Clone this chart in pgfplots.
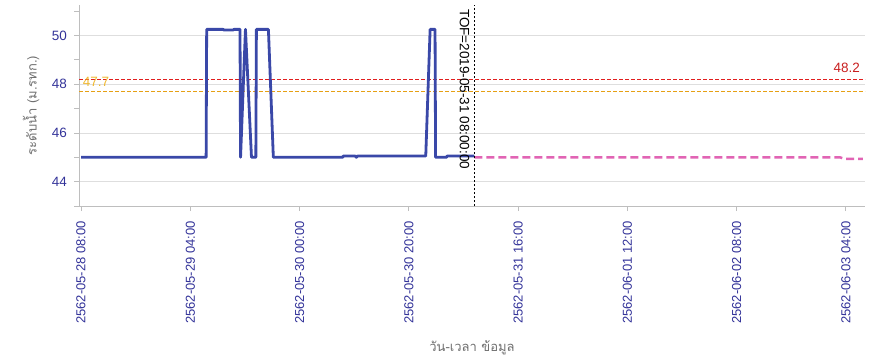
\documentclass[border=0pt]{standalone}
\usepackage{fontspec}
\setmainfont{Liberation Sans}
\newfontfamily\thaifont[Script=Thai]{Loma}
\usepackage{pgfplots}
\pgfplotsset{compat=1.18}
\definecolor{tickblue}{RGB}{51,51,153}
\definecolor{seriesblue}{RGB}{58,72,168}
\definecolor{fcpink}{RGB}{225,100,180}
\definecolor{cRed}{RGB}{225,30,30}
\definecolor{redtext}{RGB}{200,30,30}
\definecolor{cOrange}{RGB}{230,160,20}
\definecolor{labelorange}{RGB}{240,185,50}
\definecolor{axgray}{RGB}{190,190,190}
\definecolor{gridgray}{RGB}{222,222,222}
\definecolor{titlegray}{RGB}{110,110,110}
\begin{document}
\begin{tikzpicture}
\useasboundingbox (0pt,0pt) rectangle (875pt,360pt);
\begin{axis}[
  at={(79pt,154pt)}, anchor=south west,
  scale only axis, width=786pt, height=201pt,
  xmin=-0.37, xmax=143.5, ymin=43, ymax=51.25,
  axis x line*=bottom, axis y line*=left,
  axis line style={axgray, line width=1pt, -},
  tick align=outside,
  major tick length=5pt, minor tick length=5pt,
  tick style={axgray, line width=0.8pt},
  ytick={44,46,48,50}, yticklabels={44,46,48,50},
  minor ytick={43,45,47,49,51},
  xtick={0,20,40,60,80,100,120,140},
  xticklabels={2562-05-28 08:00,2562-05-29 04:00,2562-05-30 00:00,2562-05-30 20:00,2562-05-31 16:00,2562-06-01 12:00,2562-06-02 08:00,2562-06-03 04:00},
  xticklabel style={rotate=90, anchor=east, color=tickblue, font=\fontsize{13}{15}\selectfont, inner sep=0pt, xshift=-10pt},
  yticklabel style={color=tickblue, font=\fontsize{13.5}{15}\selectfont, inner sep=0pt, xshift=-7pt},
  ymajorgrids, grid style={gridgray, line width=0.8pt},
  xlabel={\thaifont วัน-เวลา ข้อมูล},
  xlabel style={at={(axis description cs:0.5,-0.706)}, anchor=center, color=titlegray, font=\fontsize{13}{15}\selectfont},
  ylabel={\thaifont ระดับน้ำ (ม.รทก.)},
  ylabel style={at={(axis description cs:-0.061,0.5)}, anchor=center, color=titlegray, font=\fontsize{13}{15}\selectfont},
  clip=false,
]
\addplot[draw=cRed, line width=1.1pt, dash pattern=on 4pt off 2pt] coordinates {(-0.37,48.2) (143.5,48.2)};
\addplot[draw=cOrange, line width=1.1pt, dash pattern=on 4pt off 2pt] coordinates {(-0.37,47.7) (143.5,47.7)};
\addplot[draw=seriesblue, line width=2.8pt, line join=round] coordinates {
(0,45.0) (22.9,45.0) (23.0,50.25) (26.0,50.25) (26.2,50.22) (27.8,50.22) (28.0,50.25) (29.1,50.25) (29.2,45.0) (30.1,50.25) (31.2,45.0) (32.0,45.0) (32.1,50.25) (34.3,50.25) (35.2,45.0) (47.9,45.0) (48.0,45.05) (50.2,45.05) (50.4,45.0) (50.6,45.05) (63.1,45.05) (63.9,50.25) (64.8,50.25) (64.9,45.0) (66.9,45.0) (67.0,45.05) (72,45.05)
};
\addplot[draw=fcpink, line width=2.5pt, dash pattern=on 8pt off 4pt] coordinates {(72,45.0) (138.9,45.0) (139.8,44.93) (143.1,44.93)};
\addplot[draw=black, line width=0.8pt, dash pattern=on 2pt off 2pt] coordinates {(72,43) (72,51.25)};
\node[xshift=-5pt, yshift=-4pt, rotate=-90, anchor=north west, inner sep=0pt, font=\fontsize{13.5}{15}\selectfont] at (axis cs:72,51.25) {TOF=2019-05-31 08:00:00};
\node[yshift=5pt, anchor=south west, inner sep=0pt, text=labelorange, font=\fontsize{13.5}{15}\selectfont] at (axis cs:0.3,47.7) {47.7};
\node[yshift=6pt, xshift=-5pt, anchor=south east, inner sep=0pt, text=redtext, font=\fontsize{13.5}{15}\selectfont] at (axis cs:143.5,48.2) {48.2};
\end{axis}
\end{tikzpicture}
\end{document}
